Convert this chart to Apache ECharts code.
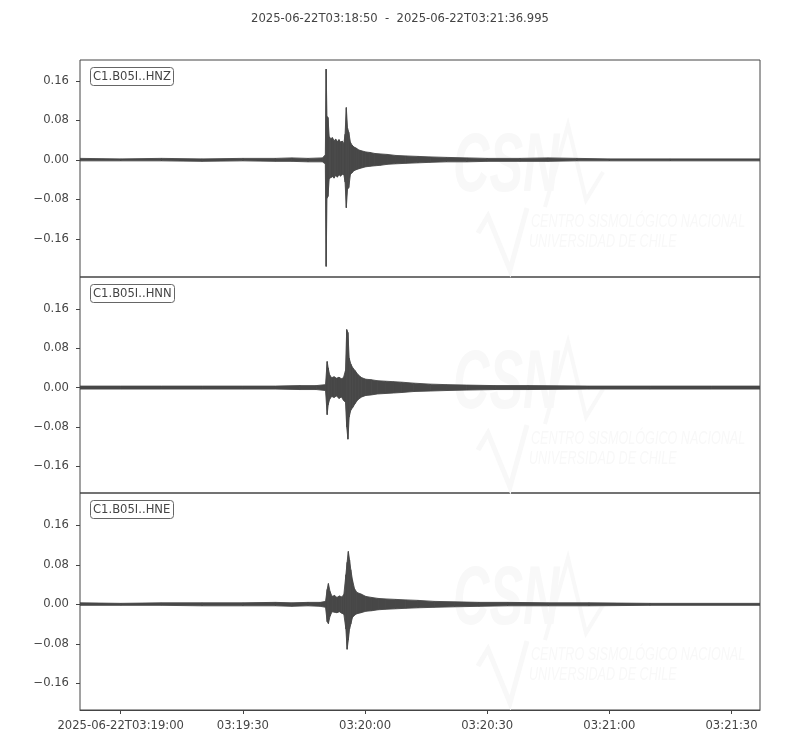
<!DOCTYPE html>
<html>
<head>
<meta charset="utf-8">
<script src="https://cdn.jsdelivr.net/npm/echarts@6/dist/echarts.min.js"></script>
<style>html,body{margin:0;padding:0;background:#fff}#c{width:800px;height:750px}</style>
</head>
<body>
<div id="c"></div>
<script>
// ---- data (seconds after 2025-06-22T03:18:50, amplitude envelope) ----
const titleText = '2025-06-22T03:18:50  -  2025-06-22T03:21:36.995';
const channels = ['C1.B05I..HNZ', 'C1.B05I..HNN', 'C1.B05I..HNE'];
const xMax = 166.995;
const xTickSeconds = [10, 40, 70, 100, 130, 160];
const xTickLabels = ['2025-06-22T03:19:00', '03:19:30', '03:20:00', '03:20:30', '03:21:00', '03:21:30'];
const yTickValues = [-0.16, -0.08, 0, 0.08, 0.16];
const yLimits = [[-0.2375, 0.2025], [-0.2145, 0.2250], [-0.2140, 0.2255]];

const hnzTime  = [0, 10, 20, 30, 40, 48, 52, 56, 59.5, 60.25, 60.45, 60.65, 60.9, 61.2, 61.6, 62.0, 62.4, 62.8, 63.2, 63.6, 64.0, 64.4, 64.8, 65.1, 65.4, 65.7, 66.0, 66.4, 66.8, 67.3, 67.8, 68.5, 69.3, 70.2, 71.2, 72.4, 73.8, 75.5, 77.5, 80, 83, 86, 90, 95, 100, 108, 115, 122, 130, 145, 167];
const hnzUpper = [0.003, 0.002, 0.003, 0.002, 0.003, 0.003, 0.004, 0.003, 0.004, 0.010, 0.184, 0.088, 0.086, 0.047, 0.043, 0.045, 0.039, 0.042, 0.037, 0.041, 0.036, 0.038, 0.033, 0.052, 0.106, 0.065, 0.056, 0.036, 0.030, 0.026, 0.024, 0.020, 0.018, 0.016, 0.015, 0.013, 0.012, 0.011, 0.009, 0.008, 0.007, 0.006, 0.005, 0.004, 0.003, 0.003, 0.004, 0.003, 0.002, 0.002, 0.002];
const hnzLower = [-0.002, -0.002, -0.002, -0.003, -0.002, -0.003, -0.003, -0.004, -0.004, -0.008, -0.216, -0.078, -0.074, -0.038, -0.036, -0.034, -0.037, -0.031, -0.035, -0.030, -0.033, -0.029, -0.030, -0.045, -0.097, -0.060, -0.056, -0.030, -0.026, -0.022, -0.020, -0.018, -0.016, -0.014, -0.013, -0.012, -0.011, -0.009, -0.008, -0.007, -0.006, -0.005, -0.004, -0.004, -0.003, -0.003, -0.003, -0.002, -0.002, -0.002, -0.002];

const hnnTime  = [0, 10, 20, 30, 40, 48, 54, 58, 60.3, 60.7, 60.95, 61.3, 61.8, 62.4, 63.0, 63.6, 64.2, 64.7, 65.2, 65.5, 65.8, 66.1, 66.5, 67.0, 67.6, 68.3, 69.2, 70.2, 71.5, 73, 75, 77, 79, 82, 86, 90, 95, 102, 110, 125, 140, 155, 167];
const hnnUpper = [0.003, 0.003, 0.003, 0.003, 0.003, 0.003, 0.004, 0.004, 0.006, 0.053, 0.040, 0.026, 0.020, 0.022, 0.019, 0.021, 0.018, 0.020, 0.035, 0.118, 0.112, 0.060, 0.048, 0.040, 0.034, 0.026, 0.020, 0.017, 0.016, 0.014, 0.013, 0.012, 0.011, 0.009, 0.007, 0.006, 0.005, 0.004, 0.004, 0.003, 0.003, 0.003, 0.003];
const hnnLower = [-0.003, -0.003, -0.003, -0.003, -0.003, -0.003, -0.004, -0.004, -0.006, -0.055, -0.035, -0.024, -0.018, -0.020, -0.017, -0.022, -0.019, -0.026, -0.030, -0.080, -0.105, -0.060, -0.046, -0.040, -0.032, -0.024, -0.019, -0.016, -0.015, -0.013, -0.012, -0.011, -0.010, -0.008, -0.007, -0.006, -0.005, -0.004, -0.004, -0.003, -0.003, -0.003, -0.003];

const hneTime  = [0, 10, 20, 30, 40, 48, 52, 56, 59, 60.3, 60.7, 61.0, 61.4, 61.9, 62.5, 63.1, 63.7, 64.3, 64.8, 65.3, 65.6, 65.9, 66.2, 66.5, 66.9, 67.4, 68.0, 69.0, 70.2, 71.6, 73.2, 75, 77.5, 80, 83, 87, 92, 98, 105, 115, 125, 140, 167];
const hneUpper = [0.003, 0.002, 0.003, 0.003, 0.003, 0.004, 0.003, 0.004, 0.004, 0.006, 0.030, 0.042, 0.026, 0.016, 0.018, 0.014, 0.017, 0.015, 0.020, 0.060, 0.085, 0.107, 0.090, 0.070, 0.050, 0.032, 0.024, 0.021, 0.016, 0.014, 0.012, 0.011, 0.010, 0.009, 0.008, 0.006, 0.005, 0.004, 0.004, 0.003, 0.003, 0.002, 0.002];
const hneLower = [-0.002, -0.002, -0.002, -0.003, -0.003, -0.003, -0.004, -0.003, -0.004, -0.006, -0.035, -0.039, -0.024, -0.015, -0.016, -0.017, -0.015, -0.018, -0.020, -0.050, -0.091, -0.072, -0.050, -0.040, -0.027, -0.022, -0.019, -0.017, -0.014, -0.013, -0.011, -0.010, -0.009, -0.008, -0.007, -0.006, -0.005, -0.004, -0.003, -0.003, -0.003, -0.002, -0.002];

// ---- styling / layout ----
const FONT = 'DejaVu Sans';
const FS = 11.6;
const TEXT = '#444';
const WAVE = '#474747';
const FRAME = '#444';
const gridTops = [60, 277, 493];
const gridHeights = [217, 216, 217];

const traces = [[hnzTime, hnzUpper, hnzLower], [hnnTime, hnnUpper, hnnLower], [hneTime, hneUpper, hneLower]];

function segments(t, hi, lo) {
  const out = [];
  for (let i = 0; i < t.length - 1; i++) out.push([t[i], lo[i], hi[i], t[i + 1], lo[i + 1], hi[i + 1]]);
  return out;
}

function renderSeg(params, api) {
  const a = api.coord([api.value(0), api.value(2)]);
  const b = api.coord([api.value(3), api.value(5)]);
  const c = api.coord([api.value(3), api.value(4)]);
  const d = api.coord([api.value(0), api.value(1)]);
  return {
    type: 'polygon',
    shape: { points: [a, b, c, d] },
    style: { fill: WAVE, stroke: WAVE, lineWidth: 0.9 }
  };
}

function yFmt(v) {
  const s = Math.abs(v).toFixed(2);
  return v < -1e-9 ? '\u2212' + s : s;
}
function xFmt(v) {
  const i = xTickSeconds.findIndex(s => Math.abs(s - v) < 1e-6);
  return i >= 0 ? xTickLabels[i] : '';
}

const grids = [], xAxes = [], yAxes = [], series = [], titles = [], graphics = [];
titles.push({
  text: titleText, left: 'center', top: 8,
  textStyle: { fontFamily: FONT, fontSize: FS, fontWeight: 'normal', color: TEXT }
});

for (let k = 0; k < 3; k++) {
  grids.push({ left: 80, right: 40, top: gridTops[k], height: gridHeights[k], show: true, borderColor: FRAME, borderWidth: 1, backgroundColor: 'transparent' });
  const isBottom = k === 2;
  xAxes.push({
    type: 'value', gridIndex: k, min: 0, max: xMax, position: 'bottom',
    axisLine: { show: isBottom, onZero: false, lineStyle: { color: FRAME } },
    splitLine: { show: false },
    axisTick: { show: isBottom, customValues: xTickSeconds, length: 4, lineStyle: { color: FRAME } },
    axisLabel: { show: isBottom, customValues: xTickSeconds, formatter: xFmt, margin: 10, color: TEXT, fontFamily: FONT, fontSize: FS }
  });
  yAxes.push({
    type: 'value', gridIndex: k, min: yLimits[k][0], max: yLimits[k][1], position: 'left',
    axisLine: { show: false, onZero: false },
    splitLine: { show: false },
    axisTick: { show: true, customValues: yTickValues, length: 4, lineStyle: { color: FRAME } },
    axisLabel: { customValues: yTickValues, formatter: yFmt, margin: 11, color: TEXT, fontFamily: FONT, fontSize: FS }
  });
  const tr = traces[k];
  series.push({
    type: 'custom', xAxisIndex: k, yAxisIndex: k,
    renderItem: renderSeg,
    encode: { x: [0, 3], y: [1, 2, 4, 5] },
    data: segments(tr[0], tr[1], tr[2]),
    clip: true, z: 3
  });
  titles.push({
    text: channels[k], left: 90, top: gridTops[k] + 7,
    padding: [4, 3, 3, 3],
    borderColor: '#666', borderWidth: 1, borderRadius: 3, backgroundColor: '#fff',
    textStyle: { fontFamily: FONT, fontSize: FS, fontWeight: 'normal', color: TEXT }
  });
  // faint CSN watermark
  const oy = gridTops[k] - 60;
  const wm = '#f8f8f8';
  graphics.push({
    type: 'group', x: 0, y: oy, z: 0, silent: true,
    children: [
      { type: 'text', x: 453, y: 126, scaleX: 0.6, style: { text: 'CSN', fill: wm, font: 'italic bold 84px "Liberation Sans"' } },
      { type: 'polyline', shape: { points: [[545, 207], [568, 125], [586, 200], [603, 172]] }, style: { stroke: wm, lineWidth: 4, fill: null } },
      { type: 'polyline', shape: { points: [[478, 233], [488, 216], [510, 270], [527, 208]] }, style: { stroke: wm, lineWidth: 5, fill: null } },
      { type: 'text', x: 531, y: 213, scaleX: 0.7, style: { text: 'CENTRO SISMOLÓGICO NACIONAL', fill: wm, font: 'italic 18px "Liberation Sans"' } },
      { type: 'text', x: 529, y: 233, scaleX: 0.7, style: { text: 'UNIVERSIDAD DE CHILE', fill: wm, font: 'italic 18px "Liberation Sans"' } }
    ]
  });
}

const chart = echarts.init(document.getElementById('c'), null, { renderer: 'canvas' });
chart.setOption({
  animation: false,
  backgroundColor: '#fff',
  title: titles,
  grid: grids,
  xAxis: xAxes,
  yAxis: yAxes,
  series: series,
  graphic: graphics
});
</script>
</body>
</html>
